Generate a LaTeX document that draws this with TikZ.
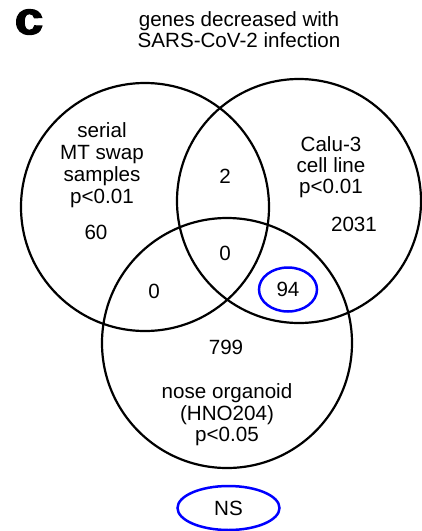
\documentclass[tikz,border=0pt]{standalone}
\usepackage{fontspec}
\setmainfont{Liberation Sans}
\newfontfamily\heavyfont[FakeBold=2.5]{Liberation Sans Bold}
\usetikzlibrary{shapes.geometric}
\begin{document}
\begin{tikzpicture}[x=1pt,y=-1pt,
  txt/.style={inner sep=0pt, align=center, font=\fontsize{20.6}{21.5}\selectfont},
  setcirc/.style={draw, circle, line width=2.2pt, inner sep=0pt},
  hilite/.style={draw=blue, ellipse, line width=2.5pt, inner sep=0pt, font=\fontsize{20.6}{21.5}\selectfont}]
\useasboundingbox (0,0) rectangle (422,531);
% panel letter and title
\node[inner sep=0pt, font=\heavyfont\fontsize{46}{46}\selectfont, xscale=1.12] (panel) at (29,22) {c};
\node[txt, font=\fontsize{20.6}{21}\selectfont] (title) at (239,30.1) {genes decreased with\\SARS-CoV-2 infection};
% sets
\node[setcirc, minimum size=248pt] (A) at (145,207) {};
\node[setcirc, minimum size=244pt] (B) at (299,201) {};
\node[setcirc, minimum size=250pt] (C) at (227,343) {};
% set labels
\node[txt, font=\fontsize{20.6}{22}\selectfont] (Alab) at (102,164.8) {serial\\MT swap\\samples\\p<0.01};
\node[txt, font=\fontsize{20.6}{21}\selectfont] (Blab) at (331,166.7) {Calu-3\\cell line\\p<0.01};
\node[txt] (Clab) at (227,415) {nose organoid\\(HNO204)\\p<0.05};
% counts
\node[txt] (nA) at (96,232) {60};
\node[txt] (nB) at (354,224) {2031};
\node[txt] (nC) at (226,347) {799};
\node[txt] (nAB) at (225,176) {2};
\node[txt] (nABC) at (225,253) {0};
\node[txt] (nAC) at (154,291) {0};
\node[hilite, minimum width=58pt, minimum height=44pt] (nBC) at (288,289.5) {94};
\node[hilite, minimum width=102pt, minimum height=44pt] (ns) at (228.5,508) {NS};
\end{tikzpicture}
\end{document}
